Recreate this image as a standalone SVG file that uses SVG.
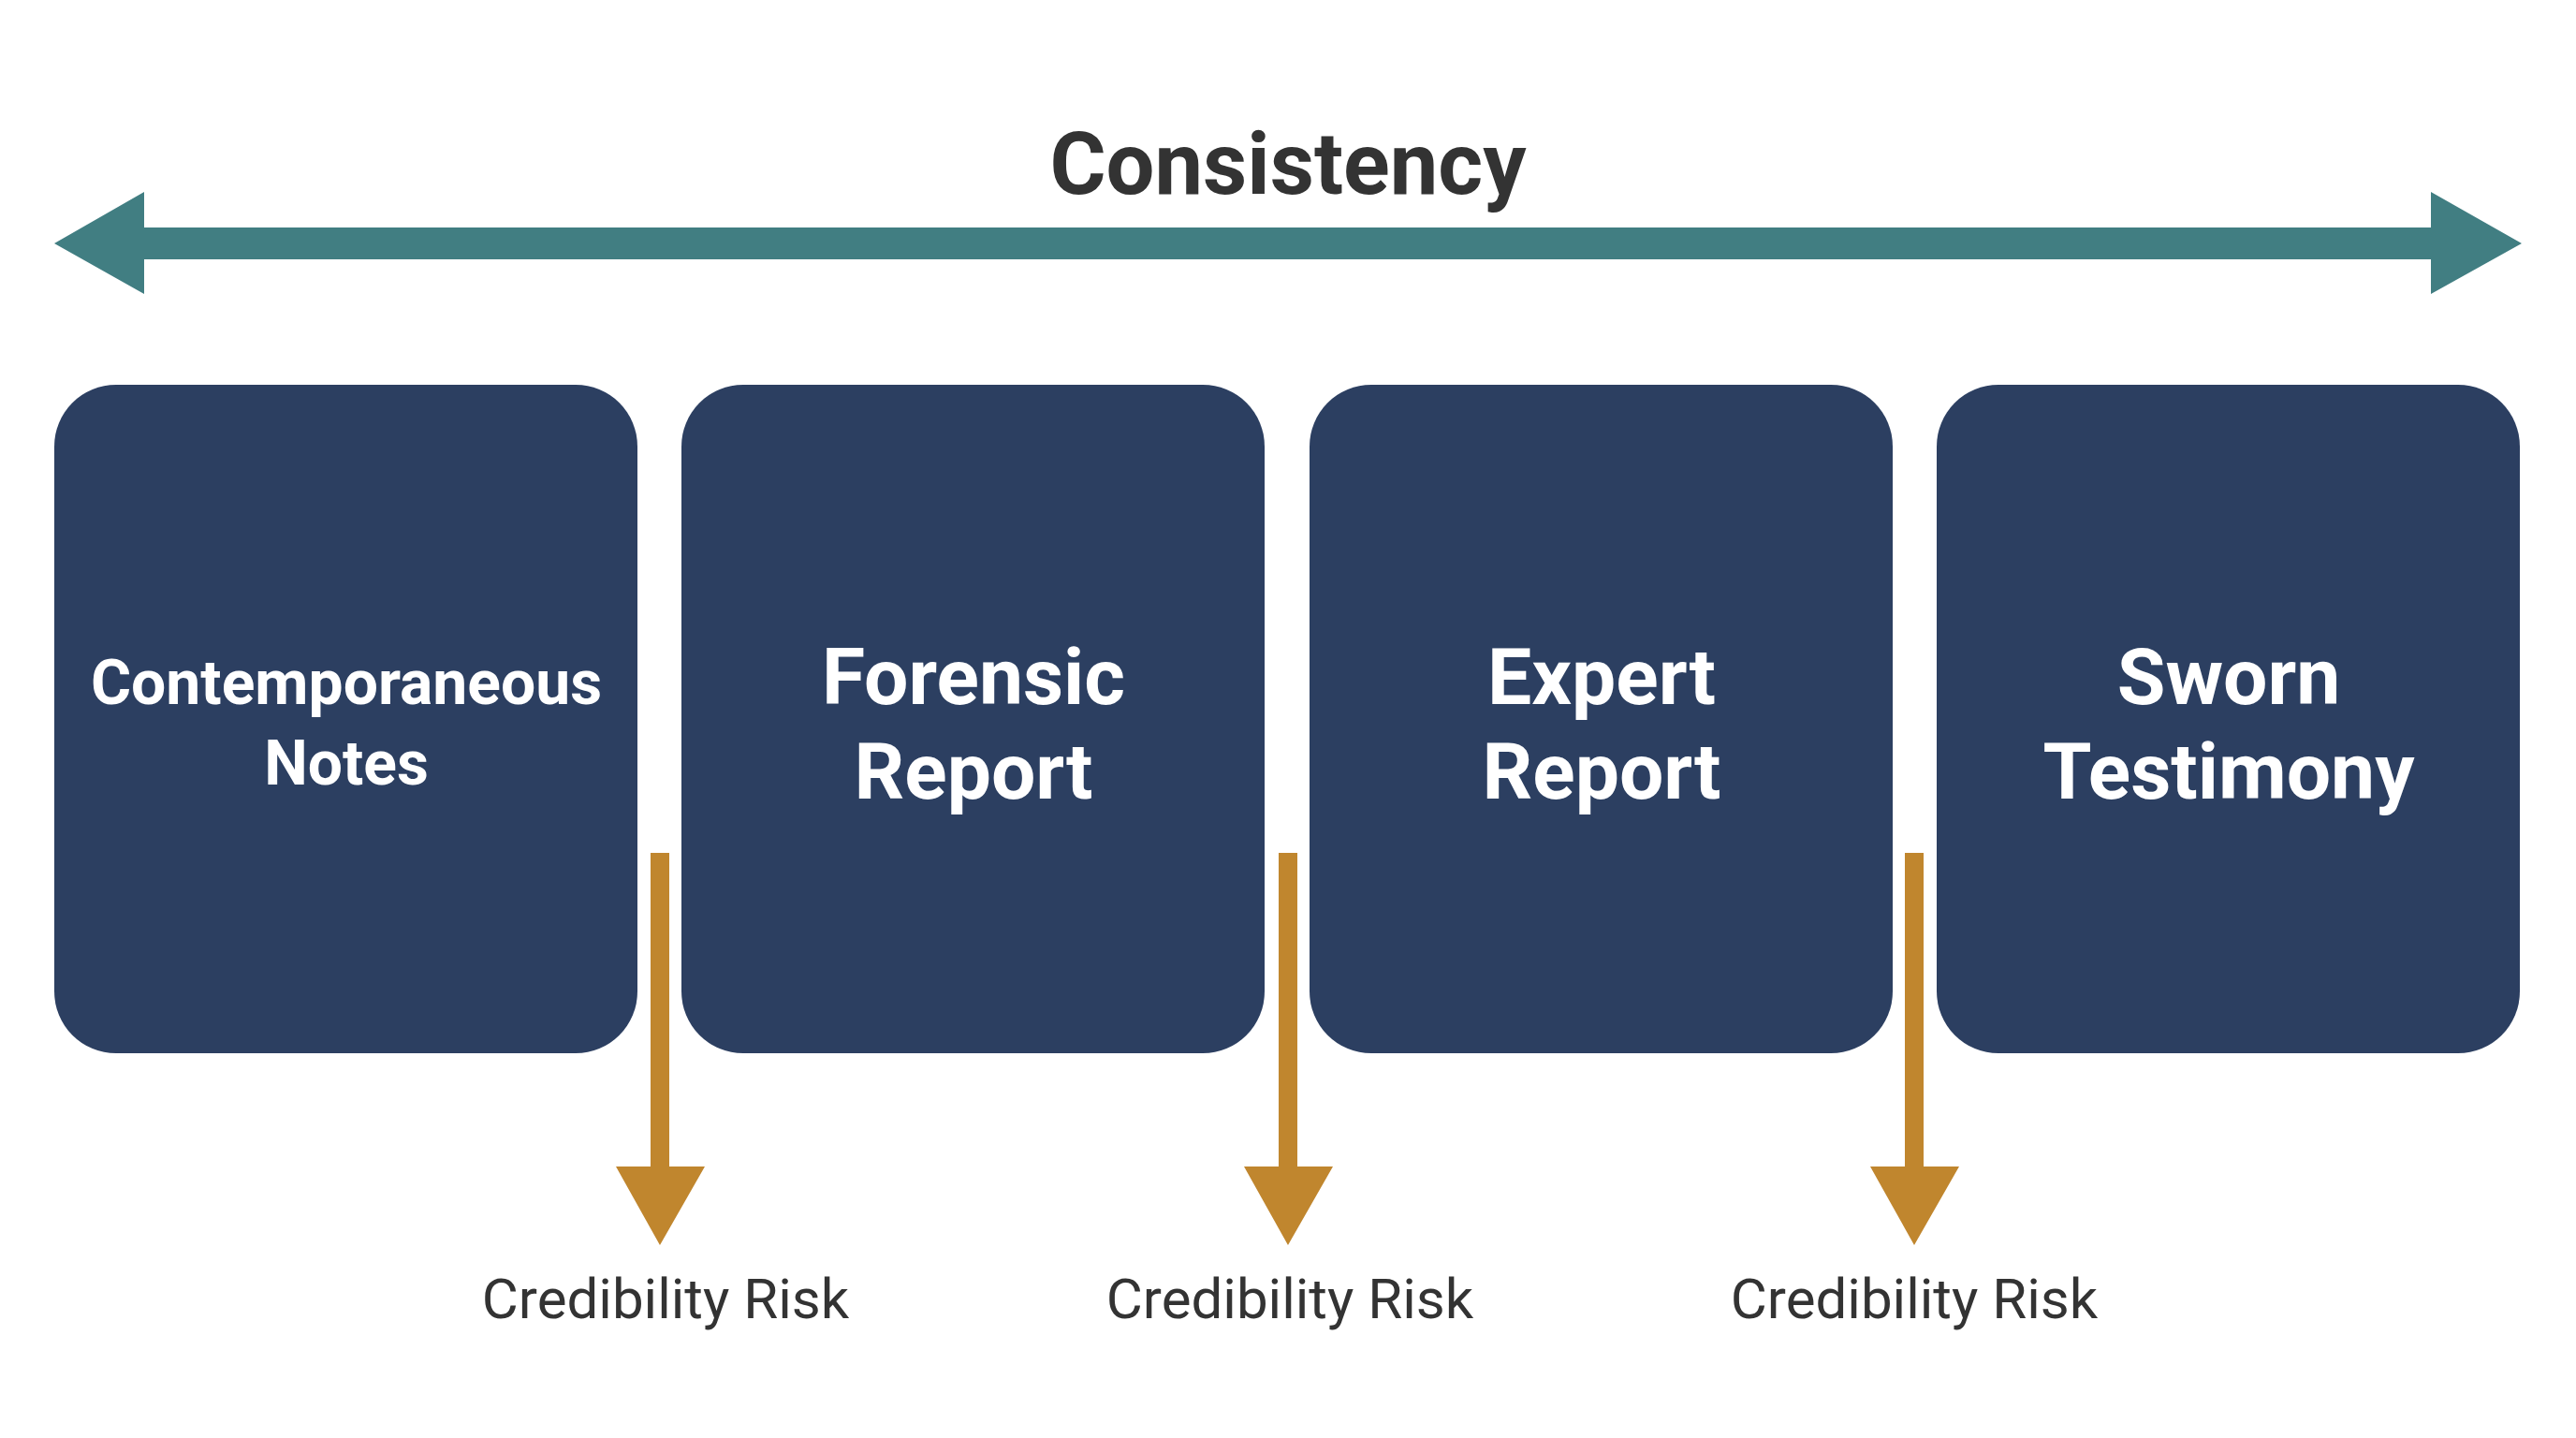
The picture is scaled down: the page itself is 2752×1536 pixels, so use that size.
<svg xmlns="http://www.w3.org/2000/svg" width="2752" height="1536" viewBox="0 0 2752 1536">
<style>
.box{fill:#2c3f61}
.bt{font-family:Roboto,"Liberation Sans",sans-serif;font-weight:bold;fill:#fff;text-anchor:middle}
.lbl{font-family:Roboto,"Liberation Sans",sans-serif;font-size:60px;fill:#333;text-anchor:middle}
.risk{fill:#c0862e}
</style>
<rect width="2752" height="1536" fill="#fff"/>
<g id="consistency">
<polygon fill="#417e82" points="58,260 154,205 154,243 2597,243 2597,205 2694,260 2597,314 2597,277 154,277 154,314"/>
<text x="1376" y="207" font-family="Roboto,'Liberation Sans',sans-serif" font-weight="bold" font-size="92" fill="#333" text-anchor="middle">Consistency</text>
</g>
<g id="n1"><rect class="box" x="58" y="411" width="623" height="714" rx="66"/>
<text class="bt" font-size="66" x="370" y="752">Contemporaneous</text><text class="bt" font-size="66" x="370" y="838">Notes</text></g>
<g id="n2"><rect class="box" x="728" y="411" width="623" height="714" rx="66"/>
<text class="bt" font-size="84" x="1040" y="752">Forensic</text><text class="bt" font-size="84" x="1040" y="853">Report</text></g>
<g id="n3"><rect class="box" x="1399" y="411" width="623" height="714" rx="66"/>
<text class="bt" font-size="84" x="1711" y="752">Expert</text><text class="bt" font-size="84" x="1711" y="853">Report</text></g>
<g id="n4"><rect class="box" x="2069" y="411" width="623" height="714" rx="66"/>
<text class="bt" font-size="84" x="2381" y="752">Sworn</text><text class="bt" font-size="84" x="2381" y="853">Testimony</text></g>
<g id="connectors">
<polygon class="risk" points="695,911 715,911 715,1246 753,1246 705,1330 658,1246 695,1246"/>
<polygon class="risk" points="1366,911 1386,911 1386,1246 1424,1246 1376,1330 1329,1246 1366,1246"/>
<polygon class="risk" points="2035,911 2055,911 2055,1246 2093,1246 2045,1330 1998,1246 2035,1246"/>
</g>
<g id="labels">
<text class="lbl" x="711" y="1408">Credibility Risk</text>
<text class="lbl" x="1378" y="1408">Credibility Risk</text>
<text class="lbl" x="2045" y="1408">Credibility Risk</text>
</g>
</svg>
